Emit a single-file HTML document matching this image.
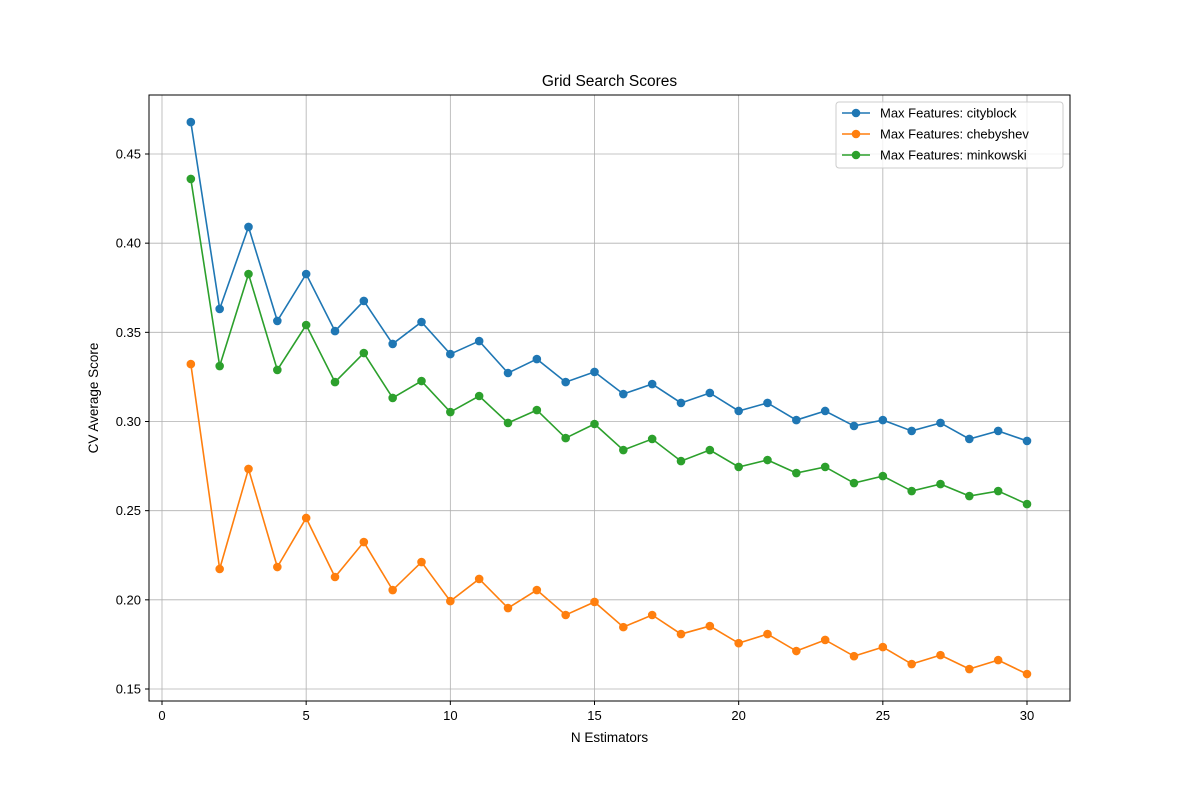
<!DOCTYPE html>
<html><head><meta charset="utf-8"><style>
body{margin:0;background:#fff;}
svg{display:block;font-family:"Liberation Sans","DejaVu Sans",sans-serif;}
</style></head><body>
<svg id="chart" width="1189" height="788"></svg>
<script>
const xValues=[1,2,3,4,5,6,7,8,9,10,11,12,13,14,15,16,17,18,19,20,21,22,23,24,25,26,27,28,29,30];
const cityblock=[0.4679,0.3631,0.4091,0.3564,0.3827,0.3507,0.3676,0.3435,0.3558,0.3378,0.3451,0.3272,0.3350,0.3221,0.3278,0.3154,0.3210,0.3104,0.3160,0.3059,0.3104,0.3008,0.3059,0.2975,0.3008,0.2947,0.2992,0.2902,0.2947,0.2891];
const chebyshev=[0.3322,0.2173,0.2734,0.2184,0.2459,0.2128,0.2324,0.2055,0.2212,0.1993,0.2117,0.1954,0.2055,0.1915,0.1988,0.1847,0.1915,0.1808,0.1853,0.1757,0.1808,0.1713,0.1775,0.1684,0.1735,0.1640,0.1690,0.1612,0.1662,0.1584];
const minkowski=[0.4360,0.3311,0.3827,0.3289,0.3541,0.3221,0.3384,0.3132,0.3227,0.3053,0.3143,0.2992,0.3064,0.2907,0.2986,0.2840,0.2902,0.2778,0.2840,0.2745,0.2784,0.2711,0.2745,0.2655,0.2694,0.2610,0.2649,0.2582,0.2610,0.2537];
const xTicks=[0,5,10,15,20,25,30];
const yTicks=[0.15,0.20,0.25,0.30,0.35,0.40,0.45];
const seriesNames=["Max Features: cityblock","Max Features: chebyshev","Max Features: minkowski"];
const seriesColors=["#1f77b4","#ff7f0e","#2ca02c"];

const NS="http://www.w3.org/2000/svg";
const svg=document.getElementById('chart');
const L=149,R=1070,T=95,B=701;
function xs(v){return 162+(v-0)*(1027-162)/30;}
function ys(v){return 689-(v-0.15)*(689-154)/0.30;}
function mk(tag,attrs,parent){const e=document.createElementNS(NS,tag);for(const k in attrs)e.setAttribute(k,attrs[k]);(parent||svg).appendChild(e);return e;}

// grid
xTicks.forEach(t=>{const g=mk('line',{x1:xs(t),x2:xs(t),y1:T,y2:B,stroke:'#b0b0b0','stroke-width':0.8});


const tk=mk('line',{x1:xs(t),x2:xs(t),y1:B,y2:B+4,stroke:'#000'});


const tx=mk('text',{x:xs(t),y:B+19,'text-anchor':'middle','font-size':13});tx.textContent=t;

});
yTicks.forEach(t=>{const g=mk('line',{x1:L,x2:R,y1:ys(t),y2:ys(t),stroke:'#b0b0b0','stroke-width':0.8});


const tk=mk('line',{x1:L-4,x2:L,y1:ys(t),y2:ys(t),stroke:'#000'});


const tx=mk('text',{x:L-8,y:ys(t)+4.5,'text-anchor':'end','font-size':13});tx.textContent=t.toFixed(2);

});

// series
[cityblock,chebyshev,minkowski].forEach((s,i)=>{
  const g=mk('g',{});
  
  
  const pts=s.map((v,j)=>xs(xValues[j])+','+ys(v)).join(' ');
  const pl=mk('polyline',{points:pts,fill:'none',stroke:seriesColors[i],'stroke-width':1.6},g);
  
  
  s.forEach((v,j)=>{const c=mk('circle',{cx:xs(xValues[j]),cy:ys(v),r:4.3,fill:seriesColors[i]},g);
  
  });
});

// frame
const fr=mk('rect',{x:L,y:T,width:R-L,height:B-T,fill:'none',stroke:'#000','stroke-width':1});



const title=mk('text',{x:(L+R)/2,y:86,'text-anchor':'middle','font-size':15.5});title.textContent='Grid Search Scores';


const xl=mk('text',{x:(L+R)/2,y:742,'text-anchor':'middle','font-size':13.5});xl.textContent='N Estimators';


const yl=mk('text',{x:0,y:0,'text-anchor':'middle','font-size':13.5,transform:'translate(98,398) rotate(-90)'});yl.textContent='CV Average Score';



// legend
const lg=mk('g',{});


mk('rect',{x:836,y:102,width:227,height:66,rx:3,fill:'#fff','fill-opacity':0.8,stroke:'#ccc'},lg);
seriesNames.forEach((n,i)=>{const y=113+i*21;
const e=mk('g',{},lg);


mk('line',{x1:842,x2:870,y1:y,y2:y,stroke:seriesColors[i],'stroke-width':1.6},e);
mk('circle',{cx:856,cy:y,r:4.3,fill:seriesColors[i]},e);
const t=mk('text',{x:880,y:y+4.5,'font-size':13},e);t.textContent=n;});
</script>
</body></html>
